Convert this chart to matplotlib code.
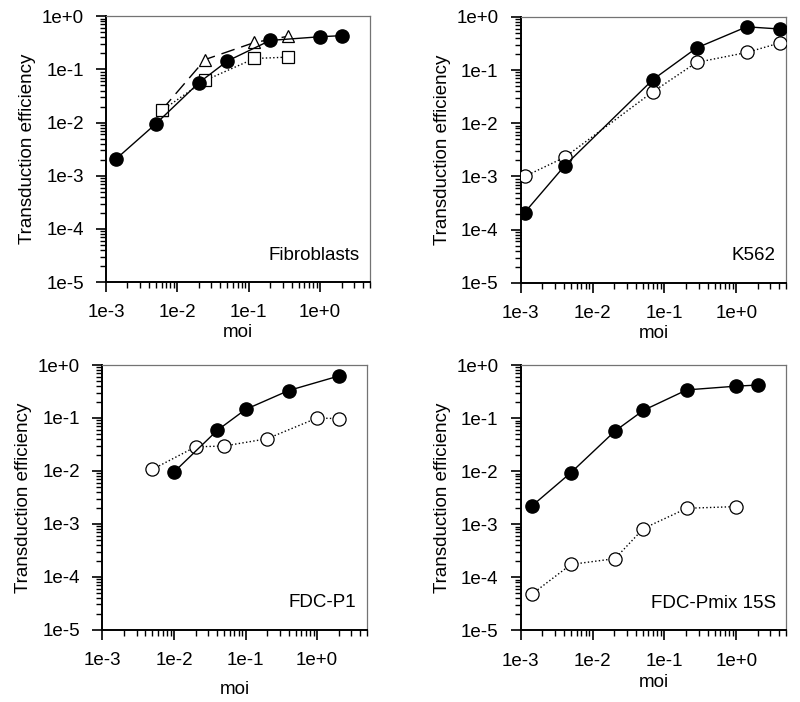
#!/usr/bin/env python3
# coding: utf-8

"""
Transduction efficiency vs moi, four cell types (log-log panels).
"""

import math

import matplotlib
matplotlib.use('Agg')
import matplotlib.pyplot as plt
from matplotlib.ticker import FixedLocator, FuncFormatter, NullFormatter

plt.rcParams['font.family'] = ['Liberation Sans', 'DejaVu Sans']

# Fibroblasts
fib_moi = [1.4e-3, 5e-3, 2e-2, 5e-2, 0.2, 1.0, 2.0]
fib_eff = [2.1e-3, 9.5e-3, 5.6e-2, 0.143, 0.35, 0.41, 0.43]
fib_tri_moi = [6.1e-3, 2.45e-2, 0.12, 0.36]
fib_tri_eff = [1.75e-2, 0.153, 0.32, 0.42]
fib_sq_moi = [6.1e-3, 2.45e-2, 0.12, 0.36]
fib_sq_eff = [1.7e-2, 6.2e-2, 0.16, 0.17]

# K562
k562_moi = [1.13e-3, 4.1e-3, 6.9e-2, 0.28, 1.4, 4.1]
k562_filled = [2.1e-4, 1.6e-3, 6.6e-2, 0.26, 0.65, 0.59]
k562_open = [1.0e-3, 2.3e-3, 3.9e-2, 0.139, 0.214, 0.325]

# FDC-P1
p1_filled_moi = [1e-2, 4e-2, 0.1, 0.4, 2.0]
p1_filled_eff = [9.5e-3, 5.8e-2, 0.145, 0.33, 0.62]
p1_open_moi = [5e-3, 2e-2, 5e-2, 0.2, 1.0, 2.0]
p1_open_eff = [1.07e-2, 2.85e-2, 2.95e-2, 4.05e-2, 0.10, 0.097]

# FDC-Pmix 15S
pmix_filled_moi = [1.42e-3, 5e-3, 2.05e-2, 5.1e-2, 0.205, 1.0, 2.0]
pmix_filled_eff = [2.2e-3, 9.4e-3, 5.7e-2, 0.14, 0.34, 0.40, 0.42]
pmix_open_moi = [1.42e-3, 5e-3, 2.05e-2, 5.1e-2, 0.205, 1.0]
pmix_open_eff = [4.8e-5, 1.75e-4, 2.25e-4, 8.3e-4, 2.0e-3, 2.15e-3]

x_major = [1e-3, 1e-2, 1e-1, 1e0]
y_major = [1e-5, 1e-4, 1e-3, 1e-2, 1e-1, 1e0]


def sci_label(v, pos):
    exp = int(round(math.log10(v)))
    return '1e+0' if exp == 0 else f'1e{exp}'


def minor_locs(lo, hi):
    locs = []
    for e in range(int(math.floor(math.log10(lo))), int(math.ceil(math.log10(hi))) + 1):
        for s in range(2, 10):
            v = s * 10.0 ** e
            if lo < v <= hi * 1.0001:
                locs.append(v)
    return locs


def style_axes(ax, name, labelpad_x):
    ax.set_xscale('log')
    ax.set_yscale('log')
    ax.set_xlim(1e-3, 5)
    ax.set_ylim(1e-5, 1)

    for side in ('left', 'bottom'):
        ax.spines[side].set_linewidth(1.4)
        ax.spines[side].set_color('black')
    for side in ('top', 'right'):
        ax.spines[side].set_linewidth(0.9)
        ax.spines[side].set_color('0.45')

    ax.set_xlabel('moi', fontsize=13.5, labelpad=labelpad_x)
    ax.set_ylabel('Transduction efficiency', fontsize=13.5, labelpad=4)
    ax.text(0.96, 0.07, name, transform=ax.transAxes, ha='right', va='bottom',
            fontsize=13.5)


def finish_ticks(ax):
    # 刻度放在最后设置，保证次刻度一定画出来
    ax.set_xlim(1e-3, 5)
    ax.set_ylim(1e-5, 1)
    ax.xaxis.set_major_locator(FixedLocator(x_major))
    ax.yaxis.set_major_locator(FixedLocator(y_major))
    ax.xaxis.set_minor_locator(FixedLocator(minor_locs(1e-3, 5)))
    ax.yaxis.set_minor_locator(FixedLocator(minor_locs(1e-5, 1)))
    for axis in (ax.xaxis, ax.yaxis):
        axis.set_major_formatter(FuncFormatter(sci_label))
        axis.set_minor_formatter(NullFormatter())
    ax.tick_params(which='major', direction='out', length=7, width=1.2,
                   labelsize=13.5, pad=9, color='black')
    ax.tick_params(which='minor', direction='out', length=4, width=1.0, color='black')
    ax.tick_params(which='both', top=False, right=False, bottom=True, left=True)


filled = dict(marker='o', markersize=9.5, markerfacecolor='black',
              markeredgecolor='black', color='black', linewidth=1.0, zorder=4)
opened = dict(marker='o', markersize=9.5, markerfacecolor='white',
              markeredgecolor='black', markeredgewidth=0.9, color='black',
              linewidth=1.0, linestyle=':', zorder=3)

fig = plt.figure(figsize=(8, 7.02), dpi=100)

# 左上：Fibroblasts
ax1 = fig.add_axes([0.1325, 0.598, 0.33, 0.379])
style_axes(ax1, 'Fibroblasts', 2)
ax1.plot(fib_tri_moi, fib_tri_eff, marker='^', markersize=9, markerfacecolor='white',
         markeredgecolor='black', markeredgewidth=0.9, color='black', linewidth=1.0,
         dashes=(10, 5), zorder=3)
ax1.plot(fib_sq_moi, fib_sq_eff, marker='s', markersize=8, markerfacecolor='white',
         markeredgecolor='black', markeredgewidth=0.9, color='black', linewidth=1.0,
         linestyle=':', zorder=3)
ax1.plot(fib_moi, fib_eff, **filled)

# 右上：K562
ax2 = fig.add_axes([0.651, 0.597, 0.332, 0.379])
style_axes(ax2, 'K562', 2)
ax2.plot(k562_moi, k562_open, **opened)
ax2.plot(k562_moi, k562_filled, **filled)

# 左下：FDC-P1
ax3 = fig.add_axes([0.128, 0.103, 0.331, 0.377])
style_axes(ax3, 'FDC-P1', 9)
ax3.plot(p1_open_moi, p1_open_eff, **opened)
ax3.plot(p1_filled_moi, p1_filled_eff, **filled)

# 右下：FDC-Pmix 15S
ax4 = fig.add_axes([0.651, 0.102, 0.332, 0.378])
style_axes(ax4, 'FDC-Pmix 15S', 3)
ax4.plot(pmix_open_moi, pmix_open_eff, **opened)
ax4.plot(pmix_filled_moi, pmix_filled_eff, **filled)

for ax in (ax1, ax2, ax3, ax4):
    finish_ticks(ax)

fig.savefig('out.png', dpi=100)
